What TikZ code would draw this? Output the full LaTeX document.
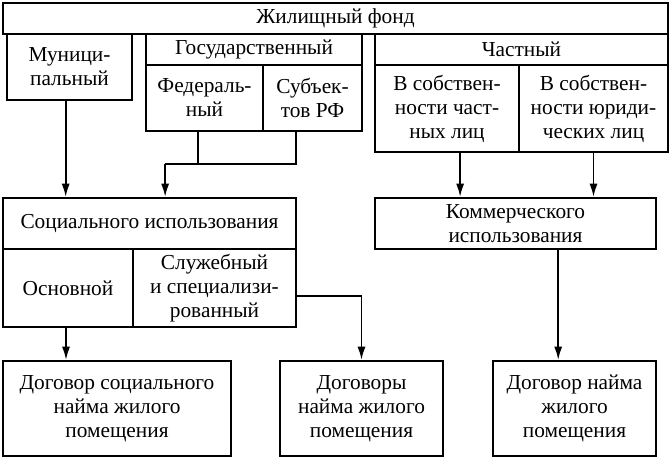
\documentclass[tikz,border=0pt]{standalone}
\usepackage{fontspec}
\setmainfont{Liberation Serif}
\usetikzlibrary{arrows.meta,calc,positioning}
\tikzset{%
	block/.style = {draw, rectangle, line width=1.4pt, inner sep=0pt, align=center, font=\fontsize{16}{18}\selectfont},
	size/.style 2 args = {minimum width=#1*0.75pt, minimum height=#2*0.75pt},
	wire/.style  = {line width=1.4pt},
	flow/.style  = {line width=1.4pt, -{Latex[length=10pt,width=6pt]}},
}

\begin{document}
\begin{tikzpicture}[x=0.75pt,y=-0.75pt]
		\useasboundingbox (0,0) rectangle (671,461);
		% upper row
		\node[block, size={665}{31}] (fond) at (335.5,18.5) {Жилищный фонд};
		\node[block, size={125}{66}] (mun) at (69.5,67) {Муници-\\пальный};
		\node[block, size={216}{31}] (gos) at (254,49.5) {Государственный};
		\node[block, size={117}{66}] (fed) at (204.5,98) {Федераль-\\ный};
		\node[block, size={99}{66}] (subj) at (312.5,98) {Субъек-\\тов РФ};
		\node[block, size={293}{31}] (chast) at (521.5,49.5) {Частный};
		\node[block, size={144}{87}] (fiz) at (447,108.5) {В собствен-\\ности част-\\ных лиц};
		\node[block, size={149}{87}] (jur) at (593.5,108.5) {В собствен-\\ности юриди-\\ческих лиц};
		% middle row
		\node[block, size={293}{51}] (soc) at (149.5,223.5) {Социального использования};
		\node[block, size={130}{78}] (osn) at (68,288) {Основной};
		\node[block, size={163}{78}] (sluzh) at (214.5,288) {Служебный\\и специализи-\\рованный};
		\node[block, size={281}{51}] (komm) at (515.5,223.5) {Коммерческого\\использования};
		% lower row
		\node[block, size={228}{95}] (dsoc) at (117,408.5) {Договор социального\\найма жилого\\помещения};
		\node[block, size={163}{95}] (dsl) at (361.5,408.5) {Договоры\\найма жилого\\помещения};
		\node[block, size={163}{95}] (dkom) at (574.5,408.5) {Договор найма\\жилого\\помещения};
		
		\coordinate (join) at ($(soc.north west)!.553!(soc.north east)+(0,-33)$);
		\draw[flow] ($(mun.south west)!.47!(mun.south east)$) coordinate (m1) -- (m1 |- soc.north);
		\draw[wire] ($(fed.south west)!.444!(fed.south east)$) coordinate (f1) -- (f1 |- join);
		\draw[wire] ($(subj.south west)!.333!(subj.south east)$) coordinate (s1) -- (s1 |- join) -- (join);
		\draw[flow] (join) -- (join |- soc.north);
		\draw[flow] ($(fiz.south west)!.59!(fiz.south east)$) coordinate (p1) -- (p1 |- komm.north);
		\draw[flow] (jur.south) -- (jur.south |- komm.north);
		\draw[flow] ($(osn.south west)!.485!(osn.south east)$) coordinate (o1) -- (o1 |- dsoc.north);
		\draw[flow] ($(sluzh.east)+(0,8)$) coordinate (c1) -- (c1 -| dsl.north) -- (dsl.north);
		\draw[flow] ($(komm.south west)!.651!(komm.south east)$) coordinate (k1) -- (k1 |- dkom.north);
\end{tikzpicture}
\end{document}
